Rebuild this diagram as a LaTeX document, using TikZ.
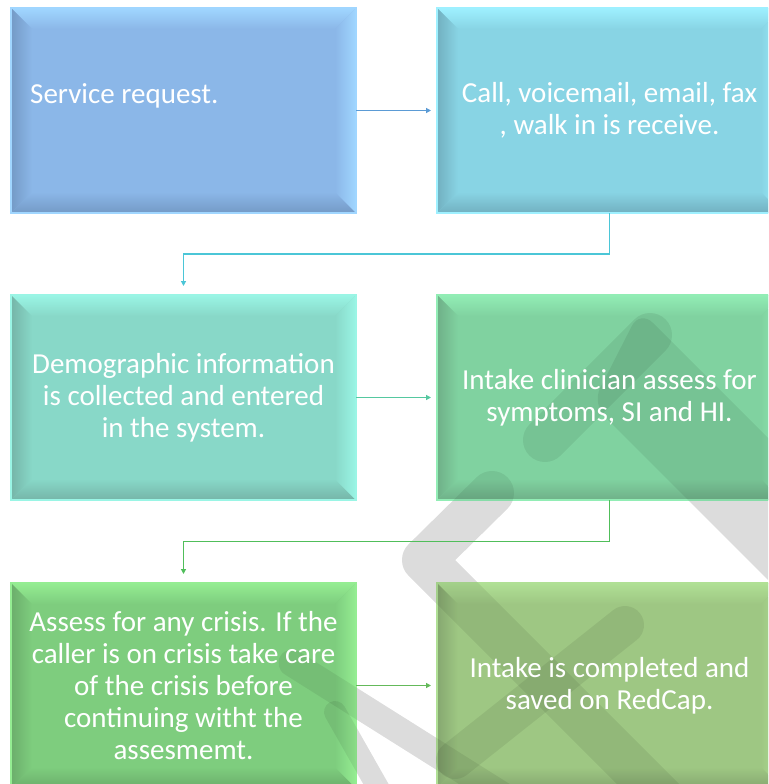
\documentclass[tikz,border=0pt]{standalone}
\usepackage{fontspec}
\setmainfont{Carlito}
\usetikzlibrary{calc,arrows.meta}

% step colours: fill, light bevel edge, dark bevel edge
\definecolor{aBase}{RGB}{139,183,232}\definecolor{aLight}{RGB}{160,214,255}\definecolor{aDark}{RGB}{116,154,198}
\definecolor{bBase}{RGB}{136,212,228}\definecolor{bLight}{RGB}{158,240,255}\definecolor{bDark}{RGB}{114,176,192}
\definecolor{cBase}{RGB}{136,216,200}\definecolor{cLight}{RGB}{154,245,229}\definecolor{cDark}{RGB}{117,181,168}
\definecolor{dBase}{RGB}{128,210,160}\definecolor{dLight}{RGB}{146,237,181}\definecolor{dDark}{RGB}{111,176,136}
\definecolor{eBase}{RGB}{126,205,126}\definecolor{eLight}{RGB}{148,237,146}\definecolor{eDark}{RGB}{107,174,107}
\definecolor{fBase}{RGB}{158,199,131}\definecolor{fLight}{RGB}{176,224,149}\definecolor{fDark}{RGB}{134,168,112}
% connector colours
\definecolor{abLine}{RGB}{91,155,213}
\definecolor{bcLine}{RGB}{75,198,215}
\definecolor{cdLine}{RGB}{85,200,160}
\definecolor{deLine}{RGB}{80,190,90}
\definecolor{efLine}{RGB}{100,185,90}

\tikzset{
  card/.style={minimum width=345pt, minimum height=205pt, inner sep=0pt, outer sep=0pt, fill=#1},
  boxtext/.style={text=white, font=\fontsize{29}{32}\selectfont, align=center, inner sep=0pt},
  link/.style={draw=#1, line width=1.3pt, -{Triangle[length=5pt,width=5pt]}},
  wmbar/.style={line width=#1, line cap=round, line join=round},
}

% bevelled edges of a step box: node, base, light, dark
\newcommand\bevelcard[4]{%
  \shade[top color=#3, bottom color=#2] (#1.north west) -- (#1.north east)
     -- ($(#1.north east)+(-21,21)$) -- ($(#1.north west)+(21,21)$) -- cycle;
  \shade[top color=#2, bottom color=#4] (#1.south west) -- (#1.south east)
     -- ($(#1.south east)+(-21,-21)$) -- ($(#1.south west)+(21,-21)$) -- cycle;
  \shade[left color=#4, right color=#2] (#1.north west) -- (#1.south west)
     -- ($(#1.south west)+(21,-21)$) -- ($(#1.north west)+(21,21)$) -- cycle;
  \shade[left color=#2, right color=#3] (#1.north east) -- (#1.south east)
     -- ($(#1.south east)+(-21,-21)$) -- ($(#1.north east)+(-21,21)$) -- cycle;
  \draw[#3, line width=1.6pt] (#1.north west) rectangle (#1.south east);
}

% the grey stamp: bars and a wide band
\newcommand\stampshapes{%
  \draw[wmbar=44pt] (492,493) -- (424,560) -- (720,856);
  \draw[wmbar=44pt] (545,440) -- (650,335);
  \fill[rounded corners=18pt] (640,310) -- (840,510) -- (840,652) -- (592,404) -- cycle;
  \draw[wmbar=27pt] (292,663) -- (540,819);
  \draw[wmbar=22pt] (335,712) -- (385,800);
  \draw[wmbar=38pt] (625,625) -- (455,760);
}

\begin{document}
\begin{tikzpicture}[x=1pt,y=-1pt]
\useasboundingbox (0,0) rectangle (768,784);
\clip (0,0) rectangle (768,784);
\fill[white] (0,0) rectangle (768,784);

% stamp, lower half of its tone (shows on the white sheet only)
\begin{scope}[black, opacity=0.07]
  \stampshapes
\end{scope}

% step boxes
\node[card=aBase] (A) at (183.5,110.5) {};
\node[card=bBase] (B) at (609.5,110.5) {};
\node[card=cBase] (C) at (183.5,397.5) {};
\node[card=dBase] (D) at (609.5,397.5) {};
\node[card=eBase] (E) at (183.5,685.5) {};
\node[card=fBase] (F) at (609.5,685.5) {};
\bevelcard{A}{aBase}{aLight}{aDark}
\bevelcard{B}{bBase}{bLight}{bDark}
\bevelcard{C}{cBase}{cLight}{cDark}
\bevelcard{D}{dBase}{dLight}{dDark}
\bevelcard{E}{eBase}{eLight}{eDark}
\bevelcard{F}{fBase}{fLight}{fDark}

% stamp, upper half of its tone (over sheet and boxes)
\begin{scope}[black, opacity=0.07]
  \stampshapes
\end{scope}

% step texts
\node[boxtext, anchor=base west] (At) at (30,103) {Service request.};
\node[boxtext] (Bt) at (B) {Call, voicemail, email, fax\\, walk in is receive.};
\node[boxtext] (Ct) at (C) {Demographic information\\is collected and entered\\in the system.};
\node[boxtext] (Dt) at (D) {Intake clinician assess for\\symptoms, SI and HI.};
\node[boxtext] (Et) at (E) {Assess for any crisis. If the\\caller is on crisis take care\\of the crisis before\\continuing witht the\\assesmemt.};
\node[boxtext] (Ft) at (F) {Intake is completed and\\saved on RedCap.};

% connectors
\draw[link=abLine, shorten >=6pt] (A.east) -- (B.west);
\draw[link=bcLine, shorten >=9pt] (B.south) -- ($(B.south)!.5!(B.south|-C.north)$) -| (C.north);
\draw[link=cdLine, shorten >=6pt] (C.east) -- (D.west);
\draw[link=deLine, shorten >=9pt] (D.south) -- ($(D.south)!.5!(D.south|-E.north)$) -| (E.north);
\draw[link=efLine, shorten >=6pt] (E.east) -- (F.west);
\end{tikzpicture}
\end{document}
